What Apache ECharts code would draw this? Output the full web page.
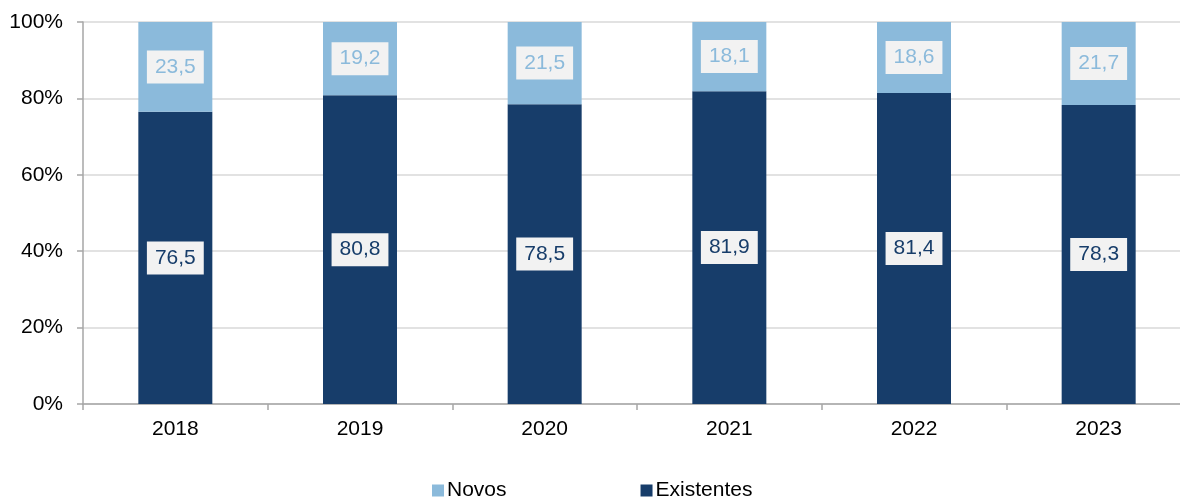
<!DOCTYPE html>
<html>
<head>
<meta charset="utf-8">
<script src="https://cdn.jsdelivr.net/npm/echarts@6/dist/echarts.min.js"></script>
<style>
  html, body { margin: 0; padding: 0; background: #ffffff; overflow: hidden; }
  /* plot runs slightly past the right edge of the window */
  #chart { width: 1191px; height: 498px; }
</style>
</head>
<body>
<div id="chart"></div>
<script>
// Share of new vs existing, per year (percent of total)
const years = ['2018', '2019', '2020', '2021', '2022', '2023'];
const novos = [23.5, 19.2, 21.5, 18.1, 18.6, 21.7];
const existentes = [76.5, 80.8, 78.5, 81.9, 81.4, 78.3];
const yTicks = [0, 20, 40, 60, 80, 100];

const FONT = '"Liberation Sans", Arial, sans-serif';
const COLOR_NOVOS = '#8bbadb';
const COLOR_EXIST = '#173d6a';

const fmt = v => v.toFixed(1).replace('.', ',');

function boxLabel(textColor) {
  return {
    show: true,
    position: 'inside',
    formatter: p => fmt(p.value),
    color: textColor,
    fontFamily: FONT,
    fontSize: 21,
    lineHeight: 24,
    backgroundColor: '#f2f2f2',
    padding: [5, 8, 4, 8]
  };
}

const chart = echarts.init(document.getElementById('chart'));
chart.setOption({
  animation: false,
  grid: { left: 83, top: 22, right: 0, height: 382, containLabel: false },
  legend: {
    data: ['Novos', 'Existentes'],
    left: 427,
    top: 475,
    itemWidth: 12,
    itemHeight: 12,
    itemGap: 134,
    icon: 'rect',
    textStyle: { fontFamily: FONT, fontSize: 21, color: '#000000', padding: [2, 0, 0, -2] }
  },
  xAxis: {
    type: 'category',
    data: years,
    axisLine: { lineStyle: { color: '#a6a6a6', width: 1.5 } },
    axisTick: { show: true, length: 6, lineStyle: { color: '#a6a6a6', width: 1.5 } },
    axisLabel: { fontFamily: FONT, fontSize: 21, color: '#000000', margin: 15 }
  },
  yAxis: {
    type: 'value',
    min: 0,
    max: 100,
    interval: 20,
    axisLine: { show: true, lineStyle: { color: '#a6a6a6', width: 1.5 } },
    axisTick: { show: true, length: 6, lineStyle: { color: '#a6a6a6', width: 1.5 } },
    splitLine: { lineStyle: { color: '#d9d9d9', width: 1.5 } },
    axisLabel: {
      fontFamily: FONT, fontSize: 21, color: '#000000', margin: 20,
      formatter: v => (yTicks.includes(v) ? v + '%' : '')
    }
  },
  series: [
    {
      name: 'Existentes',
      type: 'bar',
      stack: 'total',
      barWidth: 74,
      data: existentes,
      itemStyle: { color: COLOR_EXIST },
      label: boxLabel(COLOR_EXIST)
    },
    {
      name: 'Novos',
      type: 'bar',
      stack: 'total',
      barWidth: 74,
      data: novos,
      itemStyle: { color: COLOR_NOVOS },
      label: boxLabel(COLOR_NOVOS)
    }
  ]
});
</script>
</body>
</html>
